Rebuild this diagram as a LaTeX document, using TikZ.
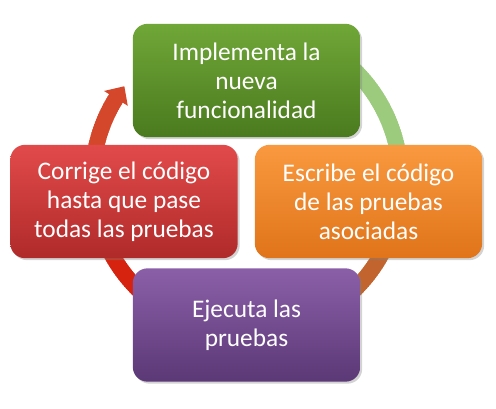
\documentclass[tikz,border=0pt]{standalone}
\usepackage{fontspec}
\setmainfont{Carlito}
\usetikzlibrary{shadows}
\definecolor{arcG}{HTML}{9CCB7E}
\definecolor{arcO}{HTML}{C2642E}
\definecolor{arcR}{HTML}{D6230F}
\definecolor{arcL}{HTML}{D5472A}
\definecolor{gTop}{HTML}{70A738}
\definecolor{gBot}{HTML}{4A7A1E}
\definecolor{oTop}{HTML}{F9993F}
\definecolor{oBot}{HTML}{E0741A}
\definecolor{rTop}{HTML}{E24A4A}
\definecolor{rBot}{HTML}{B02A2A}
\definecolor{pTop}{HTML}{8B5FA8}
\definecolor{pBot}{HTML}{5B3876}
\begin{document}
\begin{tikzpicture}[x=0.75pt,y=0.75pt,
  cyclebox/.style={rounded corners=11pt, minimum width=170.5pt, minimum height=85pt,
    align=center, text=white, inner sep=0pt,
    font=\fontsize{19}{21.8}\selectfont,
    drop shadow={opacity=0.35, shadow xshift=1.5pt, shadow yshift=-1.5pt}}]
\useasboundingbox (0,0) rectangle (496,408);
% circular arrow
\begin{scope}[shift={(246.5,228)}]
\def\ro{162}\def\ri{146}
\foreach \s/\e/\ca/\cb in {70/12/arcG/arcG, 12/-32/arcG/arcO, -32/-58/arcO/arcO, -58/-125/arcO/arcR, -125/-150/arcR/arcR, -150/-193/arcR/arcL, -193/-212/arcL/arcL}{
  \pgfmathtruncatemacro{\n}{abs(\s-\e)}
  \foreach \i in {1,...,\n}{
    \pgfmathsetmacro{\p}{100*(\i-0.5)/\n}
    \pgfmathsetmacro{\aa}{\s-(\i-1)*(\s-\e)/\n+0.3}
    \pgfmathsetmacro{\bb}{\s-\i*(\s-\e)/\n-0.3}
    \fill[\cb!\p!\ca] (\aa:\ro) -- (\bb:\ro) -- (\bb:\ri) -- (\aa:\ri) -- cycle;
  }
}
\coordinate (hl) at (-212:168);
\coordinate (hr) at (-212:140);
\coordinate (tip) at (-217.5:154);
\fill[arcL] (hl) -- (tip) -- (hr) -- cycle;
\end{scope}
% boxes
\node[cyclebox, top color=gTop, bottom color=gBot] (impl) at (246.5,327.5) {Implementa la\\nueva\\funcionalidad};
\node[cyclebox, top color=oTop, bottom color=oBot] (escr) at (368.5,206.5) {Escribe el código\\de las pruebas\\asociadas};
\node[cyclebox, top color=pTop, bottom color=pBot] (ejec) at (246.5,83) {Ejecuta las\\pruebas};
\node[cyclebox, top color=rTop, bottom color=rBot] (corr) at (124,206.5) {Corrige el código\\hasta que pase\\todas las pruebas};
\end{tikzpicture}
\end{document}
